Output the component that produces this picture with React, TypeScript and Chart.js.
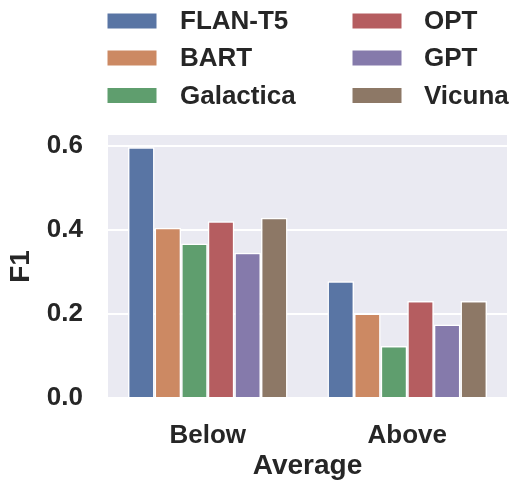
import React, { useEffect, useRef } from "react";
import { Chart, registerables } from "chart.js";

Chart.register(...registerables);

const categories = ["Below", "Above"];
const models = ["FLAN-T5", "BART", "Galactica", "OPT", "GPT", "Vicuna"];
const flanT5 = [0.597, 0.278];
const bart = [0.405, 0.201];
const galactica = [0.368, 0.124];
const opt = [0.421, 0.231];
const gpt = [0.346, 0.175];
const vicuna = [0.429, 0.231];
const seriesValues = [flanT5, bart, galactica, opt, gpt, vicuna];
const colors = ["#5975A4", "#CC8963", "#5F9E6E", "#B55D60", "#857AAB", "#8D7866"];
const yTicks = [0, 0.2, 0.4, 0.6];

const FONT = "'Liberation Sans', Arial, sans-serif";
const TEXT = "#262626";

const legendPlugin = {
  id: "customLegend",
  afterDraw(chart: any) {
    const ctx = chart.ctx;
    ctx.save();
    const cols = [
      { box: 107, text: 180 },
      { box: 352, text: 424 },
    ];
    const rows = [21, 58, 95.5];
    models.forEach((name, i) => {
      const col = cols[Math.floor(i / 3)];
      const rowY = rows[i % 3];
      ctx.fillStyle = colors[i];
      ctx.fillRect(col.box, rowY - 8, 50, 16);
      ctx.strokeStyle = "#ffffff";
      ctx.lineWidth = 1;
      ctx.strokeRect(col.box, rowY - 8, 50, 16);
      ctx.fillStyle = TEXT;
      ctx.font = `bold 26px ${FONT}`;
      ctx.textAlign = "left";
      ctx.textBaseline = "middle";
      ctx.fillText(name, col.text, rowY + 1);
    });
    ctx.restore();
  },
};

const bgPlugin = {
  id: "plotBg",
  beforeDraw(chart: any) {
    const { ctx, chartArea } = chart;
    ctx.save();
    ctx.fillStyle = "#EAEAF2";
    ctx.fillRect(chartArea.left, chartArea.top, chartArea.right - chartArea.left, chartArea.bottom - chartArea.top);
    ctx.restore();
  },
};

export default function App() {
  const ref = useRef<HTMLCanvasElement>(null);
  useEffect(() => {
    if (!ref.current) return;
    const chart = new Chart(ref.current, {
      type: "bar",
      data: {
        labels: categories,
        datasets: models.map((m, i) => ({
          label: m,
          data: seriesValues[i],
          backgroundColor: colors[i],
          borderColor: "#ffffff",
          borderWidth: 1.5,
          categoryPercentage: 0.8,
          barPercentage: 1.0,
        })),
      },
      options: {
        animation: false,
        responsive: false,
        devicePixelRatio: 1,
        layout: { padding: { top: 135, right: 4, left: 0, bottom: 0 } },
        plugins: { legend: { display: false }, tooltip: { enabled: false } },
        scales: {
          x: {
            type: "category",
            offset: true,
            grid: { display: false, drawTicks: false },
            border: { display: false },
            ticks: {
              color: TEXT,
              font: { family: FONT, size: 26, weight: "bold" },
              padding: 22,
            },
            title: {
              display: true,
              text: "Average",
              color: TEXT,
              font: { family: FONT, size: 28, weight: "bold" },
              padding: { top: 0, bottom: 0 },
            },
            afterFit(scale: any) {
              scale.height = 85;
            },
          },
          y: {
            type: "linear",
            min: 0,
            max: 0.626,
            grid: { color: "#ffffff", lineWidth: 2, drawTicks: false },
            border: { display: false },
            ticks: {
              stepSize: 0.2,
              includeBounds: false,
              color: TEXT,
              font: { family: FONT, size: 26, weight: "bold" },
              padding: 25,
              callback: (v: any) => Number(v).toFixed(1),
            },
            afterBuildTicks(scale: any) {
              scale.ticks = yTicks.map((v) => ({ value: v }));
            },
            title: {
              display: true,
              text: "F1",
              color: TEXT,
              font: { family: FONT, size: 28, weight: "bold" },
              padding: { top: 4, bottom: 0 },
            },
            afterFit(scale: any) {
              scale.width = 108;
            },
          },
        },
      },
      plugins: [bgPlugin, legendPlugin],
    });
    return () => chart.destroy();
  }, []);
  return (
    <div style={{ position: "absolute", left: 0, top: 0, width: 511, height: 483, background: "#fff" }}>
      <canvas ref={ref} width={511} height={483} style={{ width: 511, height: 483 }} />
    </div>
  );
}
